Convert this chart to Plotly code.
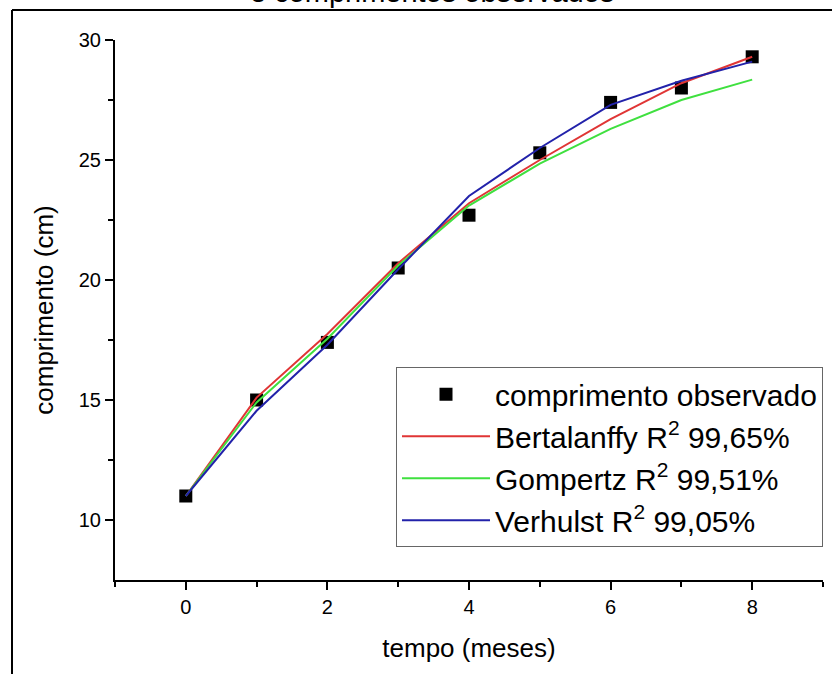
import plotly.graph_objects as go

tempo = [0, 1, 2, 3, 4, 5, 6, 7, 8]
observado = [11.0, 15.0, 17.4, 20.5, 22.7, 25.3, 27.4, 28.0, 29.3]
bertalanffy = [11.0, 15.1, 17.75, 20.7, 23.2, 25.0, 26.7, 28.2, 29.3]
gompertz = [11.0, 14.9, 17.55, 20.6, 23.1, 24.85, 26.3, 27.5, 28.35]
verhulst = [11.0, 14.55, 17.3, 20.45, 23.5, 25.5, 27.3, 28.3, 29.1]

names = ["comprimento observado",
         "Bertalanffy R<sup>2</sup> 99,65%",
         "Gompertz R<sup>2</sup> 99,51%",
         "Verhulst R<sup>2</sup> 99,05%"]

FONT = "Liberation Sans, Arial, sans-serif"

fig = go.Figure()
fig.add_trace(go.Scatter(x=tempo, y=observado, mode="markers", name=names[0],
                         marker=dict(symbol="square", size=13, color="black")))
fig.add_trace(go.Scatter(x=tempo, y=bertalanffy, mode="lines", name=names[1],
                         line=dict(color="#e03535", width=2)))
fig.add_trace(go.Scatter(x=tempo, y=gompertz, mode="lines", name=names[2],
                         line=dict(color="#3fe03f", width=2)))
fig.add_trace(go.Scatter(x=tempo, y=verhulst, mode="lines", name=names[3],
                         line=dict(color="#2222aa", width=2)))

fig.update_layout(
    width=832, height=674,
    margin=dict(l=115, r=9, t=40, b=94, autoexpand=False),
    paper_bgcolor="white", plot_bgcolor="white",
    font=dict(family=FONT, color="black", size=20),
    showlegend=True,
    legend=dict(x=1.0, xanchor="right", y=0.394, yanchor="top",
                bgcolor="white", bordercolor="#666666", borderwidth=1,
                font=dict(size=30, family=FONT), itemwidth=88,
                tracegroupgap=0),
    xaxis=dict(range=[-1, 9], tickvals=[0, 2, 4, 6, 8], ticks="outside",
               ticklen=8, tickwidth=2, tickcolor="black",
               showline=True, linecolor="black", linewidth=2,
               showgrid=False, zeroline=False,
               minor=dict(tickvals=[-1, 1, 3, 5, 7, 9], ticks="outside",
                          ticklen=5, tickwidth=2, tickcolor="black"),
               tickfont=dict(size=20),
               title=dict(text="tempo (meses)", font=dict(size=26), standoff=22)),
    yaxis=dict(range=[7.5, 30], tickvals=[10, 15, 20, 25, 30], ticks="outside",
               ticklen=8, tickwidth=2, tickcolor="black",
               showline=True, linecolor="black", linewidth=2,
               showgrid=False, zeroline=False,
               minor=dict(tickvals=[12.5, 17.5, 22.5, 27.5], ticks="outside",
                          ticklen=5, tickwidth=2, tickcolor="black"),
               tickfont=dict(size=20),
               title=dict(text="comprimento (cm)", font=dict(size=26), standoff=18)),
)

# outer frame (left and top edges visible)
fig.add_shape(type="line", xref="paper", yref="paper",
              x0=(12 - 115) / 708, x1=(12 - 115) / 708,
              y0=(580 - 700) / 540, y1=(580 - 10) / 540,
              line=dict(color="black", width=2))
fig.add_shape(type="line", xref="paper", yref="paper",
              x0=(12 - 115) / 708, x1=(850 - 115) / 708,
              y0=(580 - 10) / 540, y1=(580 - 10) / 540,
              line=dict(color="black", width=2))

# cropped title (only its lower part is visible at the top edge)
fig.add_annotation(text="e comprimentos observados", xref="paper", yref="paper",
                   x=(432 - 115) / 708, y=(580 - 10) / 540, xanchor="center",
                   yanchor="bottom", showarrow=False, font=dict(size=29, family=FONT))

# remove the browser's default 8px body margin so the figure fills the window
fig.write_html("out.html", config={"displayModeBar": False},
               post_script="document.body.style.margin='0';")
